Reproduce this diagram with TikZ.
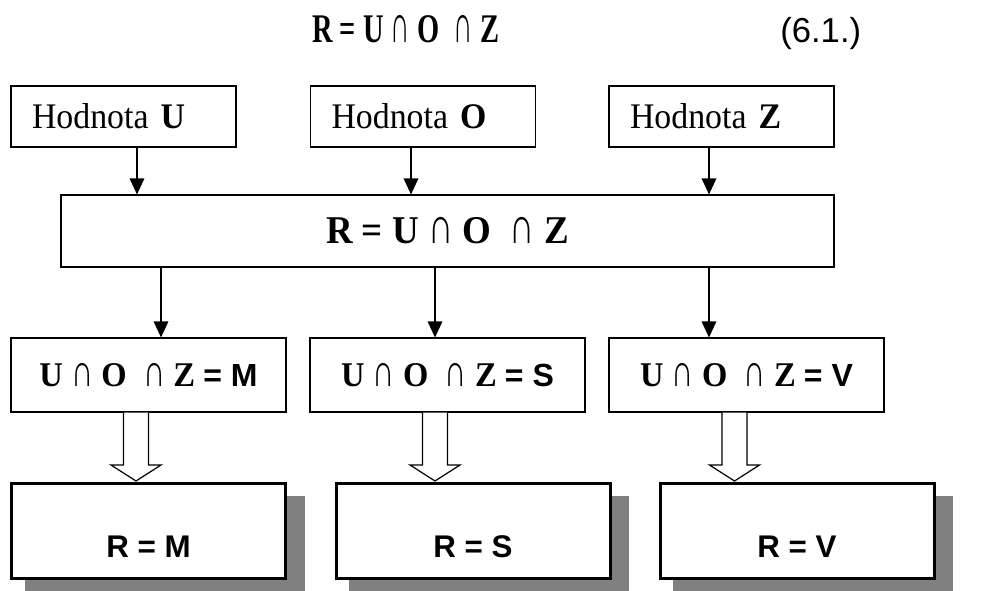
\documentclass[tikz,border=0pt]{standalone}
\usepackage{fontspec}
\usepackage{graphicx}
\setmainfont[FakeStretch=0.94]{Liberation Serif}
\newfontfamily\arialf{Liberation Sans}
\usetikzlibrary{arrows.meta,calc,backgrounds}
\newcommand\isect{\resizebox{0.64em}{0.665em}{\mdseries ∩}}
\begin{document}
\begin{tikzpicture}[x=0.75pt,y=-0.75pt,
  thinbox/.style={draw, line width=0.9pt, fill=white, inner sep=0pt},
  topbox/.style={thinbox, minimum height=45.75pt, text width=137.25pt, inner xsep=15.75pt, align=left, font=\fontsize{27}{32}\selectfont},
  midbox/.style={thinbox, minimum width=579.75pt, minimum height=54pt, font=\fontsize{29.5}{35}\selectfont\bfseries},
  rowbox/.style={thinbox, minimum width=206.25pt, minimum height=55.5pt, font=\fontsize{26}{31}\selectfont\bfseries},
  endbox/.style={draw, line width=2.25pt, fill=white, inner sep=0pt, minimum width=205.5pt, minimum height=71.25pt, font=\arialf\bfseries\fontsize{23.5}{28}\selectfont, text height=39pt, text depth=0pt},
  arr/.style={line width=0.9pt, -{Triangle[length=12pt,width=11pt]}},
  hollow/.style={line width=0.9pt, fill=white, line join=miter},
  shadowfill/.style={fill=black!50}
]
\useasboundingbox (0,0) rectangle (986,590);

% title
\node[anchor=base west, inner sep=0pt] (title) at (312,42)
  {\resizebox{140.25pt}{\height}{\fontsize{30.5}{36}\selectfont\bfseries R = U \isect{} O\ \ \isect{} Z}};
\node[anchor=base west, inner sep=0pt, font=\arialf\fontsize{26}{30}\selectfont] (eqno) at (780,42) {(6.1.)};

% top boxes
\node[topbox] (u) at (123.5,116.5) {Hodnota \textbf{U}};
\node[topbox] (o) at (423,116.5) {Hodnota \textbf{O}};
\node[topbox] (z) at (721.5,116.5) {Hodnota \textbf{Z}};

% middle box
\node[midbox] (mid) at (447.5,231) {R = U \isect{} O\ \ \isect{} Z};

% row boxes
\node[rowbox] (m) at (148.5,375) {U \isect{} O\ \ \isect{} Z {\arialf\fontsize{24}{29}\selectfont = M}};
\node[rowbox] (s) at (447.5,375) {U \isect{} O\ \ \isect{} Z {\arialf\fontsize{24}{29}\selectfont = S}};
\node[rowbox] (v) at (746.5,375) {U \isect{} O\ \ \isect{} Z {\arialf\fontsize{24}{29}\selectfont = V}};

% result boxes
\node[endbox] (rm) at (148.5,531) {R = M};
\node[endbox] (rs) at (473,531) {R = S};
\node[endbox] (rv) at (797,531) {R = V};

% shadows
\begin{scope}[on background layer]
  \clip (0,0) rectangle (986,590);
  \foreach \b in {rm,rs,rv}
    \fill[shadowfill] ($(\b.north west)+(14.5,13.5)$) rectangle ($(\b.south east)+(17.5,16.5)$);
\end{scope}

% thin arrows
\coordinate (a1) at (137,0);
\coordinate (a2) at (411,0);
\coordinate (a3) at (709,0);
\draw[arr] (a1 |- u.south) -- (a1 |- mid.north);
\draw[arr] (a2 |- o.south) -- (a2 |- mid.north);
\draw[arr] (a3 |- z.south) -- (a3 |- mid.north);

\coordinate (b1) at (161,0);
\coordinate (b2) at (435,0);
\coordinate (b3) at (709,0);
\draw[arr] (b1 |- mid.south) -- (b1 |- m.north);
\draw[arr] (b2 |- mid.south) -- (b2 |- s.north);
\draw[arr] (b3 |- mid.south) -- (b3 |- v.north);

% hollow arrows
\foreach \top/\bot/\x in {m/rm/136, s/rs/435, v/rv/734.5}{
  \coordinate (h) at (\x,0);
  \draw[hollow] ($(h |- \top.south)+(-12.5,0)$) -- ($(h |- \bot.north)+(-12.5,-17)$)
    -- ($(h |- \bot.north)+(-25,-17)$) -- ($(h |- \bot.north)+(0,-1)$)
    -- ($(h |- \bot.north)+(25,-17)$) -- ($(h |- \bot.north)+(12.5,-17)$)
    -- ($(h |- \top.south)+(12.5,0)$);
}
\end{tikzpicture}
\end{document}
